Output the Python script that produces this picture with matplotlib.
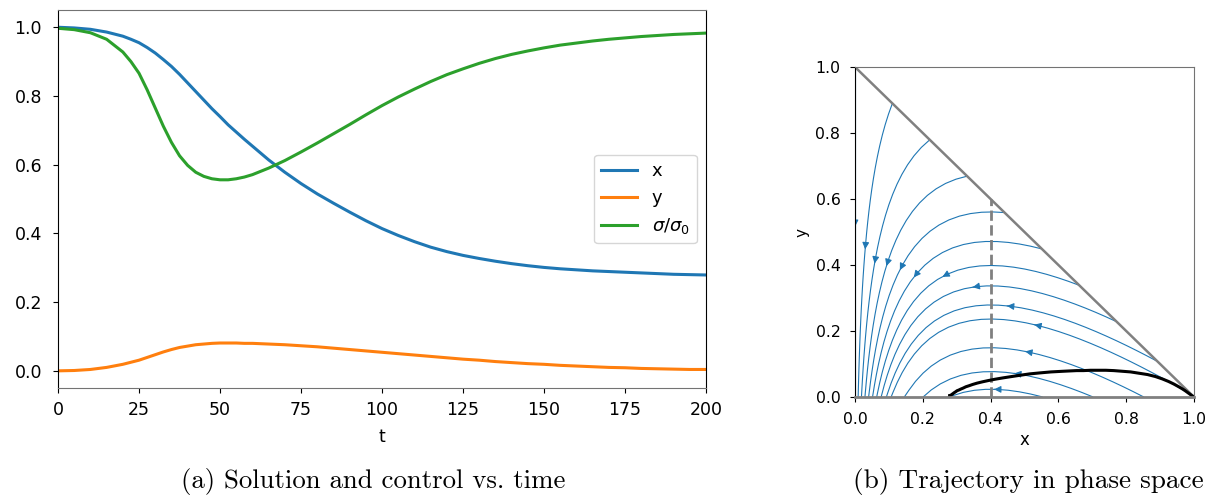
import numpy as np
import matplotlib.pyplot as plt

# time grid and solution of the controlled model
t = [0, 5, 10, 15, 20, 22.5, 25, 27.5, 30, 32.5, 35, 37.5, 40, 42.5, 45, 47.5,
     50, 52.5, 55, 57.5, 60, 65, 70, 75, 80, 85, 90, 95, 100, 105, 110, 115,
     120, 125, 130, 135, 140, 145, 150, 155, 160, 165, 170, 175, 180, 185,
     190, 195, 200]
x = [1.000, 0.998, 0.994, 0.986, 0.974, 0.965, 0.955, 0.941, 0.925, 0.906,
     0.886, 0.863, 0.838, 0.813, 0.788, 0.763, 0.740, 0.716, 0.695, 0.674,
     0.654, 0.614, 0.578, 0.545, 0.515, 0.488, 0.462, 0.437, 0.414, 0.394,
     0.376, 0.360, 0.347, 0.336, 0.327, 0.319, 0.312, 0.306, 0.301, 0.297,
     0.294, 0.291, 0.289, 0.287, 0.285, 0.283, 0.281, 0.280, 0.279]
y = [0.000, 0.001, 0.004, 0.010, 0.019, 0.025, 0.031, 0.039, 0.047, 0.055,
     0.062, 0.068, 0.072, 0.076, 0.078, 0.080, 0.081, 0.081, 0.081, 0.080,
     0.080, 0.078, 0.076, 0.073, 0.070, 0.066, 0.062, 0.058, 0.054, 0.050,
     0.046, 0.042, 0.038, 0.034, 0.031, 0.027, 0.024, 0.021, 0.019, 0.016,
     0.014, 0.012, 0.010, 0.009, 0.007, 0.006, 0.005, 0.004, 0.004]
sigma_ratio = [0.997, 0.993, 0.984, 0.965, 0.928, 0.900, 0.866, 0.818, 0.765,
               0.712, 0.665, 0.626, 0.598, 0.578, 0.566, 0.559, 0.556, 0.556,
               0.559, 0.564, 0.571, 0.590, 0.612, 0.637, 0.663, 0.690, 0.717,
               0.745, 0.772, 0.797, 0.820, 0.842, 0.862, 0.879, 0.895, 0.909,
               0.921, 0.931, 0.940, 0.948, 0.954, 0.960, 0.965, 0.969, 0.973,
               0.976, 0.979, 0.981, 0.983]

# uncontrolled phase portrait
sigma0 = 2.5
hyp_start = [0.0, 0.11, 0.22, 0.33, 0.44, 0.55, 0.66, 0.77, 0.89, 0.99]
base_start = [0.55, 0.70, 0.85]

fig = plt.figure(figsize=(12.09, 4.96), dpi=100)

# (a) time series
ax1 = fig.add_axes([0.048, 0.2177, 0.536, 0.762])
ax1.plot(t, x, lw=2.2, label='x')
ax1.plot(t, y, lw=2.2, label='y')
ax1.plot(t, sigma_ratio, lw=2.2, label=r'$\sigma/\sigma_0$')
ax1.set_xlim(0, 200)
ax1.set_xlabel('t', fontsize=12.5, labelpad=6)
ax1.tick_params(labelsize=12.5)
ax1.tick_params(axis='y', pad=8)
ax1.tick_params(axis='x', pad=6)
for s in ['top', 'bottom']:
    ax1.spines[s].set_color('0.45')
ax1.legend(loc='center right', fontsize=13)

# (b) phase space
ax2 = fig.add_axes([0.7072, 0.1996, 0.2804, 0.6653])
g = np.linspace(0, 1, 201)
X, Y = np.meshgrid(g, g)
U = -sigma0 * X * Y
V = sigma0 * X * Y - Y
outside = X + Y > 1.01
U = np.ma.array(U, mask=outside)
V = np.ma.array(V, mask=outside)
starts = [(a, 0.999 - a) for a in hyp_start] + [(b, 0.001) for b in base_start]
ax2.streamplot(X, Y, U, V, start_points=starts, integration_direction='both',
               broken_streamlines=False, color='C0', linewidth=0.8, arrowsize=1)

ax2.plot([0, 1], [1, 0], color='gray', lw=1.8)
ax2.plot([1 / sigma0, 1 / sigma0], [0, 1 - 1 / sigma0], '--', color='gray', lw=2)
ax2.plot(x, y, color='k', lw=2.2)
ax2.set_xlim(0, 1)
ax2.set_ylim(0, 1)
ax2.set_xticks(np.arange(0, 1.01, 0.2))
ax2.set_yticks(np.arange(0, 1.01, 0.2))
ax2.tick_params(labelsize=11.3, pad=7)
ax2.set_xlabel('x', fontsize=12, labelpad=3)
ax2.set_ylabel('y', fontsize=11)
ax2.spines['bottom'].set_color('gray')
ax2.spines['bottom'].set_linewidth(2)
for s in ['top', 'right']:
    ax2.spines[s].set_color('0.45')

# captions
fig.text(0.3085, 0.0155, '(a) Solution and control vs. time', family='cmr10',
         fontsize=19.3, ha='center', va='baseline')
fig.text(0.8505, 0.0155, '(b) Trajectory in phase space', family='cmr10',
         fontsize=19.6, ha='center', va='baseline')

fig.savefig('out.png', dpi=100)
